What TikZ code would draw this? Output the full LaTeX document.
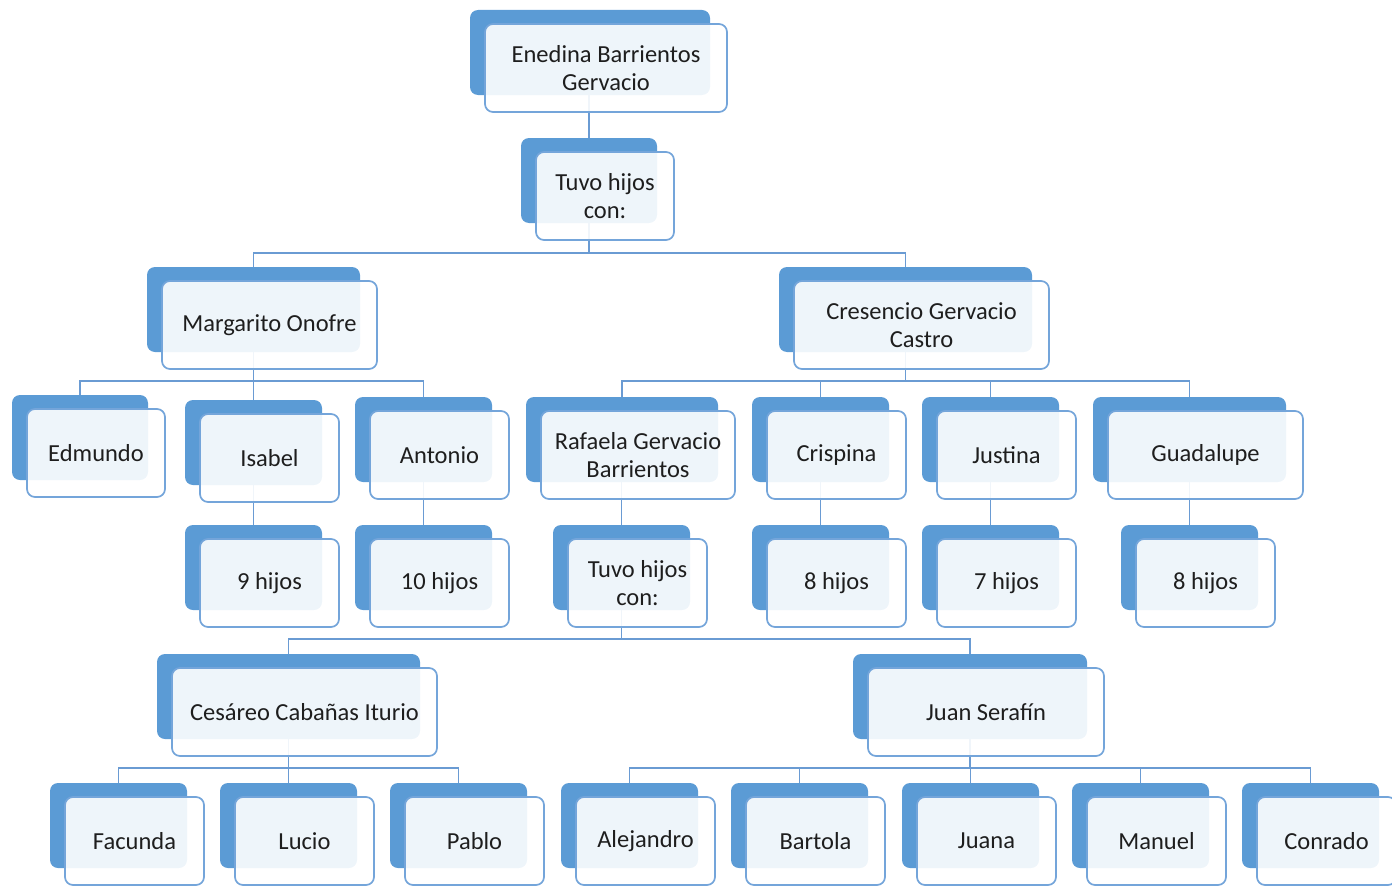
\documentclass[tikz,border=0pt]{standalone}
\usepackage{fontspec}
\setmainfont{Carlito}
\usetikzlibrary{backgrounds}
\definecolor{backblue}{HTML}{5B9BD5}
\definecolor{edgeblue}{HTML}{74A5DA}
\definecolor{lineblue}{HTML}{6A9BD3}
\definecolor{txt}{HTML}{1E1E1E}
\tikzset{
  backbox/.style={rectangle, rounded corners=8pt, fill=backblue, draw=none, inner sep=0pt},
  frontbox/.style={rectangle, rounded corners=8pt, fill=white, fill opacity=0.9, text opacity=1,
    draw=edgeblue, draw opacity=1, line width=1.7pt, inner sep=0pt, align=center, text=txt,
    font=\fontsize{24.5}{28}\selectfont},
  conn/.style={draw=lineblue, line width=1.9pt}
}
\newcommand\pbox[6]{%
  \node[backbox, minimum width={#4-#2}, minimum height={#5-#3}] (#1) at ({(#2+#4)/2},{(#3+#5)/2}) {};
  \node[frontbox, minimum width={#4-#2+2}, minimum height={#5-#3+3}] (#1f) at ({(#2+#4)/2+16},{(#3+#5)/2+15.5}) {#6};
}
\begin{document}
\begin{tikzpicture}[x=1pt,y=-1pt]
\useasboundingbox (0,0) rectangle (1392,891);
\begin{scope}
\clip (0,0) rectangle (1392,891);
\pbox{root}{470}{10}{710}{95}{Enedina Barrientos\\Gervacio}
\pbox{ta}{521}{138}{657}{223}{Tuvo hijos\\con:}
\pbox{mar}{147}{267}{360}{352}{Margarito Onofre}
\pbox{cre}{779}{267}{1032}{352}{Cresencio Gervacio\\Castro}
\pbox{edm}{12}{395}{148}{480}{Edmundo}
\pbox{isa}{185}{400}{322}{485}{Isabel}
\pbox{ant}{355}{397}{492}{482}{Antonio}
\pbox{raf}{526}{397}{718}{482}{Rafaela Gervacio\\Barrientos}
\pbox{cri}{752}{397}{889}{482}{Crispina}
\pbox{jus}{922}{397}{1059}{482}{Justina}
\pbox{gua}{1093}{397}{1286}{482}{Guadalupe}
\pbox{hn}{185}{525}{322}{610}{9 hijos}
\pbox{hd}{355}{525}{492}{610}{10 hijos}
\pbox{tb}{553}{525}{690}{610}{Tuvo hijos\\con:}
\pbox{hea}{752}{525}{889}{610}{8 hijos}
\pbox{hs}{922}{525}{1059}{610}{7 hijos}
\pbox{heb}{1121}{525}{1258}{610}{8 hijos}
\pbox{ces}{157}{654}{420}{739}{Cesáreo Cabañas Iturio}
\pbox{jua}{853}{654}{1087}{739}{Juan Serafín}
\pbox{fac}{50}{783}{187}{868}{Facunda}
\pbox{luc}{220}{783}{357}{868}{Lucio}
\pbox{pab}{390}{783}{527}{868}{Pablo}
\pbox{ale}{561}{783}{698}{868}{Alejandro}
\pbox{bar}{731}{783}{868}{868}{Bartola}
\pbox{juan}{902}{783}{1039}{868}{Juana}
\pbox{man}{1072}{783}{1209}{868}{Manuel}
\pbox{con}{1242}{783}{1379}{868}{Conrado}
\begin{scope}[on background layer]
\draw[conn] (ta.center) -- (ta.center |- root.center);
\foreach \c in {mar,cre}{\draw[conn] (ta.center) -- (ta.center |- 0,253) -| (\c.center);}
\foreach \c in {edm,isa,ant}{\draw[conn] (mar.center) -- (mar.center |- 0,381) -| (\c.center);}
\foreach \c in {raf,cri,jus,gua}{\draw[conn] (cre.center) -- (cre.center |- 0,381) -| (\c.center);}
\draw[conn] (isa.center) -- (isa.center |- hn.center);
\draw[conn] (ant.center) -- (ant.center |- hd.center);
\draw[conn] (tb.center) -- (tb.center |- raf.center);
\draw[conn] (cri.center) -- (cri.center |- hea.center);
\draw[conn] (jus.center) -- (jus.center |- hs.center);
\draw[conn] (gua.center) -- (gua.center |- heb.center);
\foreach \c in {ces,jua}{\draw[conn] (tb.center) -- (tb.center |- 0,639) -| (\c.center);}
\foreach \c in {fac,luc,pab}{\draw[conn] (ces.center) -- (ces.center |- 0,768) -| (\c.center);}
\foreach \c in {ale,bar,juan,man,con}{\draw[conn] (jua.center) -- (jua.center |- 0,768) -| (\c.center);}
\end{scope}
\end{scope}
\end{tikzpicture}
\end{document}
